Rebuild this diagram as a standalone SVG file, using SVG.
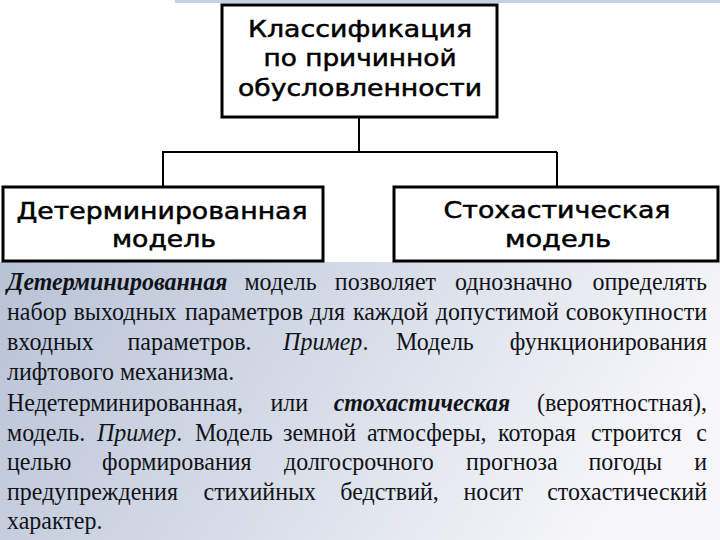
<svg xmlns="http://www.w3.org/2000/svg" width="720" height="540" viewBox="0 0 720 540">
<defs>
<linearGradient id="bg" x1="0" y1="0" x2="1" y2="0.25">
<stop offset="0" stop-color="#b8c2d6"/>
<stop offset="0.5" stop-color="#d5dbe7"/>
<stop offset="1" stop-color="#f6f6f9"/>
</linearGradient>
<style>
.box{fill:#ffffff;stroke:#000000;stroke-width:3}
.con{fill:none;stroke:#000000;stroke-width:2}
.lbl{font-family:"DejaVu Sans","Liberation Sans",sans-serif;font-size:23px;fill:#000000;stroke:#000000;stroke-width:0.5;text-anchor:middle}
.body{font-family:"Liberation Serif","Times New Roman",serif;font-size:24px;fill:#111318}
.bi{font-weight:bold;font-style:italic}
.it{font-style:italic}
.end{text-anchor:end}
</style>
</defs>
<rect x="0" y="0" width="720" height="540" fill="#ffffff"/>
<rect x="175" y="0" width="545" height="3" fill="#c4d2e2"/>
<rect x="0" y="262" width="720" height="278" fill="url(#bg)"/>

<g id="connectors">
<path class="con" d="M359 117 V152 M162 152 H557 M163 152 V187 M557 152 V187"/>
</g>

<g id="node-root">
<rect class="box" x="222" y="5" width="275" height="112"/>
<text class="lbl" x="360" y="37" textLength="224" lengthAdjust="spacingAndGlyphs">Классификация</text>
<text class="lbl" x="360" y="66" textLength="193" lengthAdjust="spacingAndGlyphs">по причинной</text>
<text class="lbl" x="360" y="96" textLength="244" lengthAdjust="spacingAndGlyphs">обусловленности</text>
</g>

<g id="node-det">
<rect class="box" x="3" y="187" width="320" height="74"/>
<text class="lbl" x="162" y="219" textLength="291" lengthAdjust="spacingAndGlyphs">Детерминированная</text>
<text class="lbl" x="164" y="247" textLength="104" lengthAdjust="spacingAndGlyphs">модель</text>
</g>

<g id="node-sto">
<rect class="box" x="394" y="187" width="324" height="74"/>
<text class="lbl" x="557" y="218" textLength="227" lengthAdjust="spacingAndGlyphs">Стохастическая</text>
<text class="lbl" x="558" y="247" textLength="106" lengthAdjust="spacingAndGlyphs">модель</text>
</g>

<g id="body-text">
<text class="body" transform="translate(0,290) scale(1,1.08)"><tspan class="bi" x="7" y="0">Детерминированная</tspan><tspan x="244.4">модель</tspan><tspan x="334.8">позволяет</tspan><tspan x="455">однозначно</tspan><tspan class="end" x="707">определять</tspan></text>
<text class="body" transform="translate(0,320) scale(1,1.08)"><tspan x="7" y="0">набор</tspan><tspan x="73.5">выходных</tspan><tspan x="185">параметров</tspan><tspan x="309.8">для</tspan><tspan x="352.9">каждой</tspan><tspan x="435.8">допустимой</tspan><tspan class="end" x="707">совокупности</tspan></text>
<text class="body" transform="translate(0,350) scale(1,1.08)"><tspan x="7" y="0">входных</tspan><tspan x="127.4">параметров.</tspan><tspan class="it" x="283.1">Пример</tspan>.<tspan x="396">Модель</tspan><tspan class="end" x="707">функционирования</tspan></text>
<text class="body" transform="translate(0,380) scale(1,1.08)" x="7" y="0">лифтового механизма.</text>
<text class="body" transform="translate(0,411) scale(1,1.08)"><tspan x="7" y="0">Недетерминированная,</tspan><tspan x="270.5">или</tspan><tspan class="bi" x="333.7">стохастическая</tspan><tspan class="end" x="707">(вероятностная),</tspan></text>
<text class="body" transform="translate(0,441) scale(1,1.08)"><tspan x="7" y="0">модель.</tspan><tspan class="it" x="97">Пример</tspan>.<tspan x="195">Модель</tspan><tspan x="283">земной</tspan><tspan x="367">атмосферы,</tspan><tspan x="498">которая</tspan><tspan x="591">строится</tspan><tspan class="end" x="707">с</tspan></text>
<text class="body" transform="translate(0,470) scale(1,1.08)"><tspan x="7" y="0">целью</tspan><tspan x="102.1">формирования</tspan><tspan x="284">долгосрочного</tspan><tspan x="466.1">прогноза</tspan><tspan x="588.5">погоды</tspan><tspan class="end" x="707">и</tspan></text>
<text class="body" transform="translate(0,500) scale(1,1.08)"><tspan x="7" y="0">предупреждения</tspan><tspan x="203.5">стихийных</tspan><tspan x="340.3">бедствий,</tspan><tspan x="463.5">носит</tspan><tspan class="end" x="707">стохастический</tspan></text>
<text class="body" transform="translate(0,529) scale(1,1.08)" x="7" y="0">характер.</text>
</g>
</svg>
